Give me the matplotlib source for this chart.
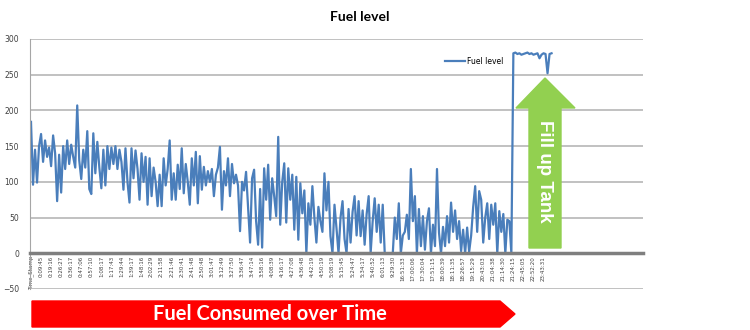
import matplotlib.pyplot as plt
from matplotlib.patches import Polygon

# fuel level readings, one per logged row
fuel = [
    184, 96, 145, 99, 150, 167, 128, 158, 135, 148,
    122, 165, 140, 73, 138, 85, 150, 118, 158, 125,
    152, 135, 120, 207, 130, 104, 145, 120, 171, 90, 83,
    168, 112, 156, 120, 91, 145, 95, 150, 118, 148,
    125, 150, 118, 145, 128, 89, 147, 100, 71, 147,
    105, 144, 118, 75, 140, 100, 135, 68, 133, 80,
    120, 100, 66, 110, 66, 133, 95, 118, 158, 75, 112,
    75, 124, 90, 147, 84, 125, 100, 68, 133, 95,
    142, 70, 136, 89, 121, 95, 115, 100, 118, 80,
    110, 120, 149, 61, 115, 95, 133, 80, 125, 98,
    110, 95, 31, 100, 88, 114, 65, 15, 105, 117, 45,
    12, 90, 8, 119, 75, 124, 47, 105, 80, 52,
    163, 40, 100, 126, 43, 119, 75, 110, 33, 107,
    19, 98, 56, 88, 0, 70, 40, 94, 50, 15,
    65, 45, 30, 112, 60, 100, 24, 0, 68, 35, 0,
    50, 73, 20, 0, 62, 15, 58, 80, 25, 73,
    24, 60, 12, 55, 80, 1, 45, 77, 30, 68,
    15, 68, 0, 0, 0, 0, 0, 50, 20, 70,
    0, 25, 30, 54, 20, 118, 45, 80, 0, 62, 10,
    52, 5, 45, 63, 0, 40, 10, 118, 29, 0,
    37, 10, 52, 15, 71, 30, 60, 20, 45, 3,
    33, 0, 36, 2, 25, 65, 94, 30, 87, 75,
    15, 50, 70, 20, 68, 40, 70, 0, 59, 30, 55,
    0, 47, 45, 0,
    280, 281, 279, 280, 278, 279, 280, 281, 279, 280,
    278, 279, 280, 273, 278, 280, 279, 252, 279, 280,
]

time_labels = [
    'Time_Stamp', '0:09:45', '0:19:16', '0:26:27', '0:36:17', '0:47:06',
    '0:57:10', '1:08:17', '1:17:43', '1:29:44', '1:39:17', '1:48:16',
    '2:02:29', '2:11:58', '2:21:46', '2:30:41', '2:41:48', '2:50:48',
    '3:01:47', '3:12:49', '3:27:50', '3:36:47', '3:47:14', '3:58:16',
    '4:08:39', '4:16:17', '4:27:08', '4:36:48', '4:42:19', '4:50:19',
    '5:08:19', '5:15:45', '5:24:47', '5:34:17', '5:40:52', '6:01:13',
    '9:29:30', '16:51:33', '17:00:06', '17:30:04', '17:51:15', '18:00:39',
    '18:11:35', '18:26:57', '19:15:29', '20:43:03', '21:04:38', '21:14:30',
    '21:24:15', '22:45:05', '22:52:20', '23:43:31',
]
label_step = 5

W, H = 750, 330


def px(x, y):
    return (x / W, 1 - y / H)


fig = plt.figure(figsize=(7.5, 3.3), dpi=100)
ax = fig.add_axes([30 / W, 1 - 289 / H, 613 / W, 250 / H])

ax.plot(range(len(fuel)), fuel, color='#4a7ebb', linewidth=1.6, label='Fuel level')
ax.set_xlim(-0.5, 304.5)
ax.set_ylim(-50, 300)
ax.set_yticks(range(-50, 301, 50))
ax.grid(axis='y', color='#bcbcbc', linewidth=1.3)
ax.set_axisbelow(True)

ax.spines[['top', 'right']].set_visible(False)
ax.spines['bottom'].set_position(('data', 0))
ax.spines['bottom'].set_color('#7f7f7f')
ax.spines['bottom'].set_linewidth(2.5)
ax.spines['left'].set_color('#a6a6a6')

ax.set_xticks(range(0, len(time_labels) * label_step, label_step))
ax.set_xticklabels(time_labels, rotation=90, fontsize=4, color='#404040')
ax.tick_params(axis='x', length=0, pad=2)
ax.tick_params(axis='y', length=0, pad=8, labelsize=5.5, labelcolor='#404040')

ax.legend(loc='center left', bbox_to_anchor=px(445, 61), bbox_transform=fig.transFigure,
          frameon=False, fontsize=5.5, handlelength=2.6, handletextpad=0.3,
          borderpad=0, borderaxespad=0)

fig.text(*px(360, 17), 'Fuel level', ha='center', va='center',
         fontsize=10, fontweight='bold', family='Lato')

# red arrow under the axis
red = Polygon([px(32, 301), px(500, 301), px(515, 314), px(500, 327), px(32, 327)],
              closed=True, transform=fig.transFigure, color='#ff0000', zorder=3)
fig.add_artist(red)
fig.text(*px(270, 314), 'Fuel Consumed over Time', ha='center', va='center',
         fontsize=14.5, fontweight='bold', family='Lato', color='white', zorder=4)

# green arrow for the refill
green = Polygon([px(529, 248), px(529, 108), px(516, 108), px(545, 78),
                 px(575, 108), px(561, 108), px(561, 248)],
                closed=True, transform=fig.transFigure, color='#92d050', zorder=3)
fig.add_artist(green)
fig.text(*px(545, 171), 'Fill up Tank', ha='center', va='center', rotation=-90,
         fontsize=13.5, fontweight='bold', family='Liberation Sans', color='white', zorder=4)

fig.savefig('out.png', dpi=100)
